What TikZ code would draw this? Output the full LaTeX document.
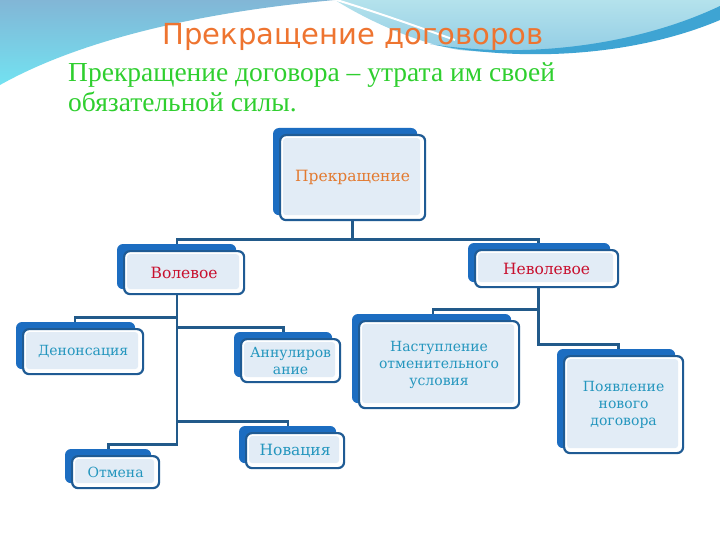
\documentclass[tikz,border=0pt]{standalone}
\usepackage{fontspec}
\setmainfont{DejaVu Serif}
\newfontfamily\titlefont{DejaVu Sans}
\newfontfamily\subfont{Liberation Serif}
\usetikzlibrary{calc}
\pgfdeclarelayer{bg}
\pgfsetlayers{bg,main}
\definecolor{backblue}{HTML}{1C6DC1}
\definecolor{borderblue}{HTML}{1F5B94}
\definecolor{innerfill}{HTML}{E2ECF6}
\definecolor{connblue}{HTML}{225A8A}
\definecolor{titleorange}{HTML}{EE7430}
\definecolor{boxorange}{HTML}{E27A30}
\definecolor{boxred}{HTML}{C8102E}
\definecolor{boxteal}{HTML}{2496BE}
\definecolor{subgreen}{HTML}{2FCF2F}
\definecolor{swtop}{HTML}{82B6D6}
\definecolor{swbot}{HTML}{72E2F1}
\definecolor{rtop}{HTML}{B4E2EC}
\definecolor{rbot}{HTML}{8FCBE4}
\definecolor{band}{HTML}{3EA4D3}
\begin{document}
\begin{tikzpicture}[x=1pt,y=-1pt,
  frontbox/.style={draw=borderblue, line width=2.2pt, fill=white, rounded corners=6pt,
    anchor=north west, inner sep=0pt, align=center,
    font=\fontsize{14}{17}\selectfont,
    path picture={\fill[innerfill, rounded corners=3pt]
      ([shift={(3pt,-3pt)}]path picture bounding box.north west) rectangle
      ([shift={(-5pt,5pt)}]path picture bounding box.south east);}},
  bigtext/.style={font=\fontsize{15.5}{17}\selectfont},
  conn/.style={draw=connblue, line width=2.6pt},
  backrect/.style={fill=backblue, rounded corners=6pt}]
\useasboundingbox (0,0) rectangle (720,540);

% nodes
\node[frontbox, minimum width=145pt, minimum height=85pt, text=boxorange, bigtext] (top) at (279,134) {Прекращение};
\node[frontbox, minimum width=120pt, minimum height=43pt, text=boxred, bigtext] (vol) at (123,250) {Волевое};
\node[frontbox, minimum width=143pt, minimum height=37pt, text=boxred, bigtext] (nevol) at (474,249) {Неволевое};
\node[frontbox, minimum width=120pt, minimum height=45pt, text=boxteal] (denon) at (22,328) {Денонсация};
\node[frontbox, minimum width=99pt, minimum height=43pt, text=boxteal] (annul) at (240,338) {Аннулиров\\ание};
\node[frontbox, minimum width=98pt, minimum height=35pt, text=boxteal, bigtext] (nova) at (245,432) {Новация};
\node[frontbox, minimum width=87pt, minimum height=32pt, text=boxteal] (otm) at (71,455) {Отмена};
\node[frontbox, minimum width=160pt, minimum height=87pt, text=boxteal] (nast) at (358,320) {Наступление\\отменительного\\условия};
\node[frontbox, minimum width=119pt, minimum height=97pt, text=boxteal] (poyav) at (563,355) {Появление\\нового\\договора};

% texts
\node[anchor=base, inner sep=0pt, text=titleorange, font=\titlefont\fontsize{29}{34}\selectfont] (title) at (353,45) {Прекращение договоров};
\node[anchor=north west, inner sep=0pt, align=left, text=subgreen, font=\subfont\fontsize{27.5}{30}\selectfont] (sub) at (68,62) {Прекращение договора – утрата им своей\\обязательной силы.};

\begin{pgfonlayer}{bg}
  \fill[white] (0,0) rectangle (720,540);
  % background swooshes
  \shade[top color=swtop, bottom color=swbot] (0,0) -- (335,0) .. controls (200,12) and (80,40) .. (0,85) -- cycle;
  \shade[top color=rtop, bottom color=rbot] (335,0) -- (720,0) -- (720,12) .. controls (640,42) and (540,58) .. (460,50) .. controls (420,44) and (370,22) .. (335,0) -- cycle;
  \fill[band] (430,44) .. controls (530,60) and (640,44) .. (720,6) -- (720,20) .. controls (640,54) and (530,64) .. (430,44) -- cycle;
  \draw[white, line width=2pt] (330,-2) .. controls (370,10) and (410,24) .. (455,40);
  % connectors
  \coordinate (j1) at ($(top.south)+(0,18)$);
  \draw[conn] (top.south) -- (j1);
  \draw[conn] (j1) -| ([xshift=-7pt]vol.north);
  \draw[conn] (j1) -| ([xshift=-8pt]nevol.north);
  \coordinate (vb) at ([xshift=-7pt]vol.south);
  \draw[conn] (vb) -- ++(0,22) -| ([xshift=-8pt]denon.north);
  \draw[conn] (vb) -- ++(0,32) -| ([xshift=-7pt]annul.north);
  \draw[conn] (vb) -- ++(0,126) -| ([xshift=-7pt]nova.north);
  \draw[conn] (vb) -- ++(0,149) -| ([xshift=-7pt]otm.north);
  \coordinate (nb) at ([xshift=-8pt]nevol.south);
  \draw[conn] (nb) -- ++(0,21) -| ([xshift=-6pt]nast.north);
  \draw[conn] (nb) -- ++(0,56) -| ([xshift=-5pt]poyav.north);
  % back plates
  \foreach \n in {top,vol,nevol,denon,annul,nova,otm,nast,poyav}
    \fill[backrect] ([shift={(-6pt,6pt)}]\n.north west) rectangle ([shift={(-9pt,6pt)}]\n.south east);
\end{pgfonlayer}
\end{tikzpicture}
\end{document}
